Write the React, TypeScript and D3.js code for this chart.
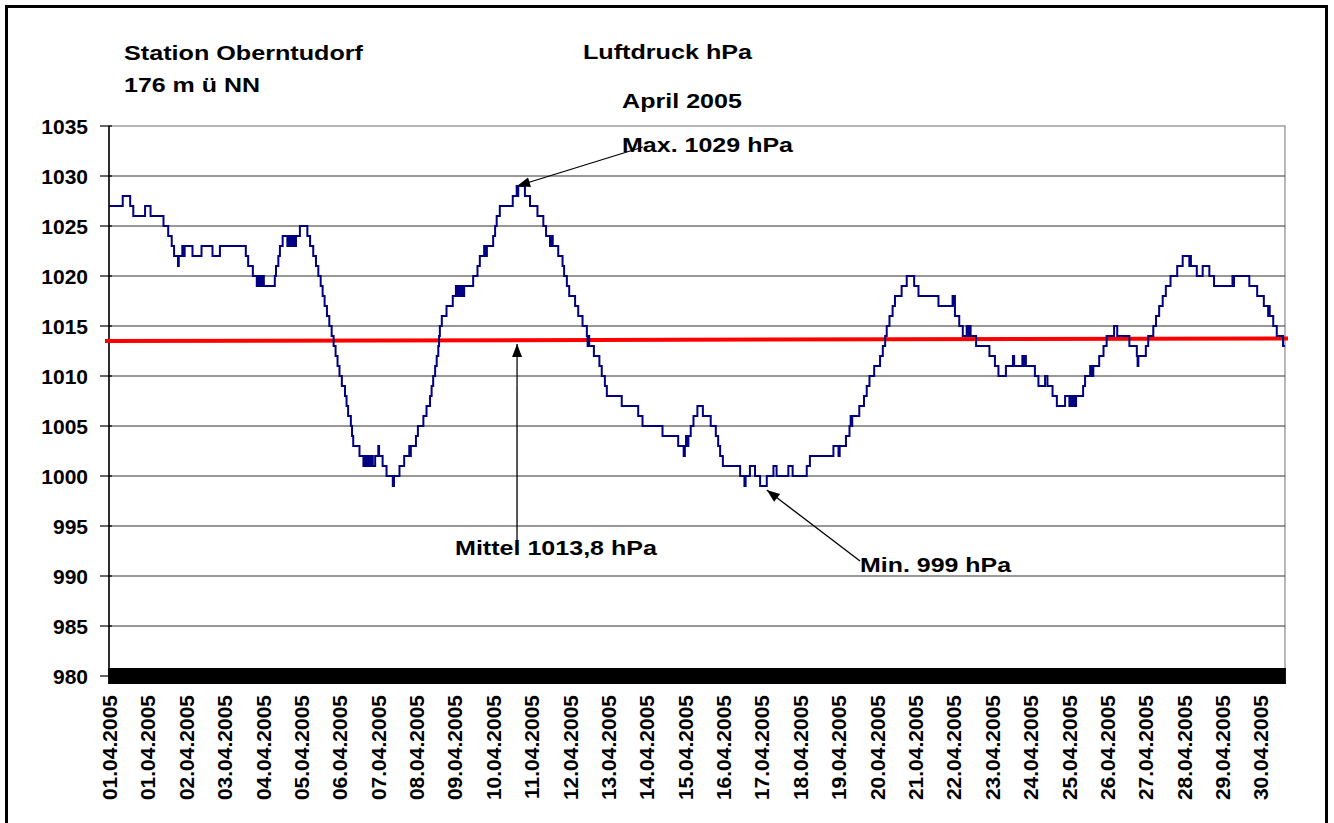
import React from "react";
import * as d3 from "d3";

const W = 1334;
const H = 823;

const yTicks = [980, 985, 990, 995, 1000, 1005, 1010, 1015, 1020, 1025, 1030, 1035];
const dateLabels = [
  "01.04.2005", "01.04.2005", "02.04.2005", "03.04.2005", "04.04.2005", "05.04.2005",
  "06.04.2005", "07.04.2005", "08.04.2005", "09.04.2005", "10.04.2005", "11.04.2005",
  "12.04.2005", "13.04.2005", "14.04.2005", "15.04.2005", "16.04.2005", "17.04.2005",
  "18.04.2005", "19.04.2005", "20.04.2005", "21.04.2005", "22.04.2005", "23.04.2005",
  "24.04.2005", "25.04.2005", "26.04.2005", "27.04.2005", "28.04.2005", "29.04.2005",
  "30.04.2005",
];
const samplesPerDay = 48;
const labelEvery = 47;
const totalDays = 30;

// [day offset, hPa] – value holds until next entry
const pressure: [number, number][] = [
  [0.0, 1027], [0.35, 1028], [0.54, 1027], [0.62, 1026], [0.92, 1027], [1.06, 1026],
  [1.39, 1025], [1.51, 1024], [1.6, 1023], [1.66, 1022], [1.76, 1021], [1.78, 1022],
  [1.87, 1023], [1.9, 1022], [1.93, 1023], [2.13, 1022], [2.36, 1023], [2.64, 1022],
  [2.83, 1023], [3.49, 1022], [3.55, 1021], [3.67, 1020], [3.77, 1019], [3.81, 1020],
  [3.83, 1019], [3.87, 1020], [3.89, 1019], [3.93, 1020], [3.95, 1019], [4.23, 1020],
  [4.26, 1021], [4.32, 1022], [4.36, 1023], [4.43, 1024], [4.55, 1023], [4.59, 1024],
  [4.61, 1023], [4.65, 1024], [4.67, 1023], [4.71, 1024], [4.73, 1023], [4.77, 1024],
  [4.87, 1025], [5.06, 1024], [5.13, 1023], [5.21, 1022], [5.28, 1021], [5.34, 1020],
  [5.4, 1019], [5.45, 1018], [5.5, 1017], [5.56, 1016], [5.62, 1015], [5.68, 1014],
  [5.73, 1013], [5.78, 1012], [5.83, 1011], [5.88, 1010], [5.94, 1009], [6.02, 1008],
  [6.06, 1007], [6.1, 1006], [6.17, 1005], [6.2, 1004], [6.23, 1003], [6.39, 1002],
  [6.49, 1001], [6.53, 1002], [6.55, 1001], [6.59, 1002], [6.61, 1001], [6.65, 1002],
  [6.67, 1001], [6.71, 1002], [6.73, 1001], [6.79, 1002], [6.87, 1003], [6.89, 1002],
  [6.98, 1001], [7.08, 1000], [7.24, 999], [7.27, 1000], [7.41, 1001], [7.53, 1002],
  [7.66, 1003], [7.68, 1002], [7.7, 1003], [7.83, 1004], [7.88, 1005], [8.02, 1006],
  [8.1, 1007], [8.19, 1008], [8.23, 1009], [8.27, 1010], [8.32, 1011], [8.36, 1012],
  [8.4, 1013], [8.42, 1014], [8.44, 1015], [8.49, 1016], [8.61, 1017], [8.77, 1018],
  [8.85, 1019], [8.9, 1018], [8.92, 1019], [8.97, 1018], [8.99, 1019], [9.04, 1018],
  [9.06, 1019], [9.29, 1020], [9.4, 1021], [9.46, 1022], [9.57, 1023], [9.6, 1022],
  [9.64, 1023], [9.8, 1024], [9.85, 1025], [9.89, 1026], [9.97, 1027], [10.3, 1028],
  [10.4, 1029], [10.42, 1028], [10.44, 1029], [10.61, 1028], [10.74, 1027], [10.93, 1026],
  [11.08, 1025], [11.15, 1024], [11.25, 1023], [11.27, 1024], [11.32, 1023], [11.46, 1022],
  [11.57, 1021], [11.61, 1020], [11.68, 1019], [11.74, 1018], [11.89, 1017], [11.97, 1016],
  [12.08, 1015], [12.19, 1014], [12.21, 1013], [12.23, 1014], [12.25, 1013], [12.37, 1012],
  [12.51, 1011], [12.57, 1010], [12.65, 1009], [12.7, 1008], [13.08, 1007], [13.5, 1006],
  [13.61, 1005], [14.12, 1004], [14.52, 1003], [14.66, 1002], [14.69, 1003], [14.72, 1004],
  [14.74, 1003], [14.78, 1004], [14.84, 1005], [14.91, 1006], [15.01, 1007], [15.15, 1006],
  [15.35, 1005], [15.48, 1004], [15.54, 1003], [15.59, 1002], [15.66, 1001], [16.1, 1000],
  [16.21, 999], [16.24, 1000], [16.35, 1001], [16.48, 1000], [16.61, 999], [16.78, 1000],
  [16.95, 1001], [17.03, 1000], [17.33, 1001], [17.44, 1000], [17.8, 1001], [17.88, 1002],
  [18.48, 1003], [18.61, 1002], [18.64, 1003], [18.8, 1004], [18.89, 1005], [18.92, 1006],
  [18.94, 1005], [18.96, 1006], [19.14, 1007], [19.26, 1008], [19.33, 1009], [19.4, 1010],
  [19.52, 1011], [19.67, 1012], [19.74, 1013], [19.8, 1014], [19.84, 1015], [19.91, 1016],
  [19.99, 1017], [20.05, 1018], [20.22, 1019], [20.35, 1020], [20.54, 1019], [20.65, 1018],
  [21.16, 1017], [21.52, 1018], [21.54, 1017], [21.56, 1018], [21.58, 1016], [21.69, 1015],
  [21.78, 1014], [21.88, 1015], [21.91, 1014], [21.93, 1015], [21.98, 1014], [22.12, 1013],
  [22.46, 1012], [22.6, 1011], [22.69, 1010], [22.88, 1011], [23.06, 1012], [23.09, 1011],
  [23.3, 1012], [23.33, 1011], [23.36, 1012], [23.39, 1011], [23.45, 1011], [23.62, 1010],
  [23.71, 1009], [23.88, 1010], [23.94, 1009], [24.07, 1008], [24.18, 1007], [24.39, 1008],
  [24.5, 1007], [24.54, 1008], [24.56, 1007], [24.6, 1008], [24.62, 1007], [24.67, 1008],
  [24.85, 1009], [24.9, 1010], [25.03, 1011], [25.05, 1010], [25.07, 1011], [25.09, 1010],
  [25.11, 1011], [25.26, 1012], [25.37, 1013], [25.45, 1014], [25.64, 1015], [25.72, 1014],
  [26.03, 1013], [26.22, 1012], [26.24, 1011], [26.26, 1012], [26.45, 1013], [26.51, 1014],
  [26.64, 1015], [26.71, 1016], [26.79, 1017], [26.88, 1018], [26.96, 1019], [27.08, 1020],
  [27.25, 1021], [27.39, 1022], [27.56, 1021], [27.58, 1022], [27.6, 1021], [27.62, 1021],
  [27.75, 1020], [27.9, 1021], [28.07, 1020], [28.19, 1019], [28.66, 1020], [28.68, 1019],
  [28.7, 1020], [29.09, 1019], [29.29, 1018], [29.46, 1017], [29.57, 1016], [29.59, 1017],
  [29.61, 1016], [29.7, 1015], [29.79, 1014], [29.95, 1013],
];

const meanSeries: [number, number][] = [[0, 1013.5], [30, 1013.75]];

const annotations = [
  { text: "Max. 1029 hPa", x: 622, y: 152, len: 171, from: [643, 147], tip: [10.41, 1029], tipDy: 0 },
  { text: "Mittel 1013,8 hPa", x: 455, y: 555, len: 202, from: [517, 552], tip: [10.41, 1013.6], tipDy: 4 },
  { text: "Min. 999 hPa", x: 860, y: 572, len: 151, from: [860, 561], tip: [16.78, 999], tipDy: 4 },
];

const titles = [
  { text: "Station Oberntudorf", x: 124, y: 60, len: 239 },
  { text: "176 m ü NN", x: 124, y: 92, len: 136 },
  { text: "Luftdruck hPa", x: 583, y: 59, len: 169 },
  { text: "April 2005", x: 622, y: 108, len: 120 },
];

const FONT = "'Liberation Sans', Arial, sans-serif";

export default function App() {
  const left = 109, right = 1285, top = 126, bottom = 676;
  const x = d3.scaleLinear().domain([0, totalDays]).range([left, right]);
  const y = d3.scaleLinear().domain([980, 1035]).range([bottom, top]);
  const slot = (right - left) / (totalDays * samplesPerDay);

  const series = [...pressure, [totalDays, pressure[pressure.length - 1][1]] as [number, number]];
  const line = d3.line<[number, number]>()
    .x((d) => x(d[0]))
    .y((d) => y(d[1]))
    .curve(d3.curveStepAfter);

  const ticks = d3.range(0, totalDays * samplesPerDay + 1);

  const arrowHead = (fx: number, fy: number, tx: number, ty: number) => {
    const a = Math.atan2(ty - fy, tx - fx);
    const L = 13, Wd = 5;
    const bx = tx - L * Math.cos(a), by = ty - L * Math.sin(a);
    const p1 = [bx + Wd * Math.sin(a), by - Wd * Math.cos(a)];
    const p2 = [bx - Wd * Math.sin(a), by + Wd * Math.cos(a)];
    return `M${tx},${ty}L${p1[0]},${p1[1]}L${p2[0]},${p2[1]}Z`;
  };

  return (
    <svg width={W} height={H} style={{ position: "absolute", left: 0, top: 0, background: "#fff" }}
      fontFamily={FONT}>
      <rect x={0} y={0} width={W} height={H} fill="#fff" />
      <rect x={6.5} y={6.5} width={1320} height={840} fill="none" stroke="#000" strokeWidth={3} />

      {/* plot border */}
      <rect x={left} y={top} width={right - left} height={bottom - top} fill="none" stroke="#888" strokeWidth={1.2} />
      {/* gridlines */}
      {yTicks.filter((v) => v > 980 && v < 1035).map((v) => (
        <line key={v} x1={left} x2={right} y1={y(v)} y2={y(v)} stroke="#333" strokeWidth={1.2} />
      ))}
      {/* y axis */}
      <line x1={left} x2={left} y1={top} y2={bottom} stroke="#000" strokeWidth={1.5} />
      {yTicks.map((v) => (
        <g key={v}>
          <line x1={left - 9} x2={left + 3} y1={y(v)} y2={y(v)} stroke="#000" strokeWidth={1.2} />
          <text x={88} y={y(v)} dy="0.36em" textAnchor="end" fontSize={21} fontWeight="bold">{v}</text>
        </g>
      ))}

      {/* x axis dense ticks (one per half-hour sample) */}
      {ticks.map((i) => (
        <line key={i} x1={x(i / samplesPerDay)} x2={x(i / samplesPerDay)} y1={bottom - 8} y2={bottom + 8}
          stroke="#000" strokeWidth={1.8} />
      ))}
      <line x1={left} x2={right} y1={bottom} y2={bottom} stroke="#000" strokeWidth={1.5} />

      {dateLabels.map((t, k) => {
        const px = x((k * labelEvery) / samplesPerDay) + slot / 2;
        return (
          <text key={k} transform={`translate(${px},695) rotate(-90)`} dy="0.36em" textAnchor="end"
            fontSize={21} fontWeight="bold">{t}</text>
        );
      })}

      {/* mean line */}
      <line x1={x(meanSeries[0][0]) - 4} y1={y(meanSeries[0][1])} x2={x(meanSeries[1][0]) + 3} y2={y(meanSeries[1][1])}
        stroke="#ff0000" strokeWidth={4} />

      {/* pressure */}
      <path d={line(series) || ""} fill="none" stroke="#000080" strokeWidth={2} />

      {/* titles */}
      {titles.map((t) => (
        <text key={t.text} x={t.x} y={t.y} fontSize={21} fontWeight="bold" textLength={t.len}
          lengthAdjust="spacingAndGlyphs">{t.text}</text>
      ))}

      {/* annotations */}
      {annotations.map((a) => {
        const tx = x(a.tip[0]);
        const ty = y(a.tip[1]) + a.tipDy;
        return (
          <g key={a.text}>
            <line x1={a.from[0]} y1={a.from[1]} x2={tx} y2={ty} stroke="#000" strokeWidth={1.3} />
            <path d={arrowHead(a.from[0], a.from[1], tx, ty)} fill="#000" />
            <text x={a.x} y={a.y} fontSize={21} fontWeight="bold" textLength={a.len}
              lengthAdjust="spacingAndGlyphs">{a.text}</text>
          </g>
        );
      })}
    </svg>
  );
}
